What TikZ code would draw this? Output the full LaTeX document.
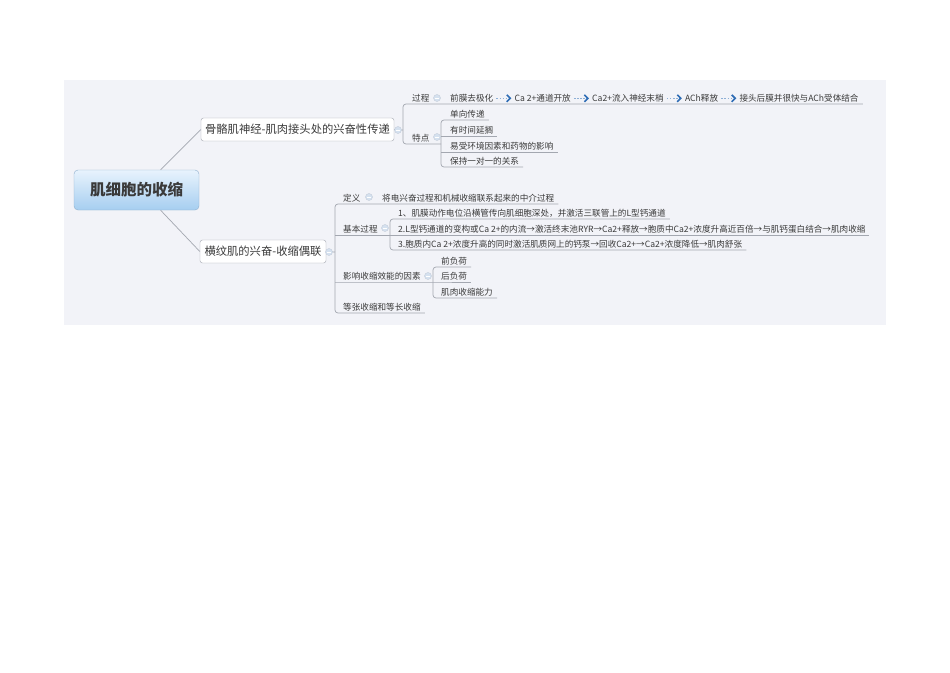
\documentclass[tikz,border=0pt]{standalone}
\usepackage{fontspec}
\newfontfamily\cjk{Noto Sans CJK SC}
\usetikzlibrary{arrows.meta,positioning}
\definecolor{paper}{HTML}{F2F3F8}
\definecolor{ink}{HTML}{3A3A3A}
\definecolor{wire}{HTML}{A3A7B0}
\definecolor{flowblue}{HTML}{2F6DB5}
\definecolor{foldfill}{HTML}{D5E1EF}
\definecolor{rootedge}{HTML}{8EAFCD}
\definecolor{roottop}{HTML}{E8F3FD}
\definecolor{rootbot}{HTML}{A6CEF0}
\tikzset{
  root/.style={rectangle, rounded corners=4pt, draw=rootedge, top color=roottop, bottom color=rootbot,
    minimum width=125pt, minimum height=40pt, font=\cjk\bfseries\fontsize{15.5}{17}\selectfont, text=ink},
  branch/.style={rectangle, rounded corners=2.5pt, draw=wire, fill=white, minimum height=23pt,
    inner xsep=3pt, font=\cjk\fontsize{11.3}{13}\selectfont, text=ink},
  leaf/.style={anchor=south west, inner xsep=0pt, inner ysep=1.5pt, font=\cjk\fontsize{8.6}{10}\selectfont, text=ink},
  fold/.style={circle, draw=foldfill!80!gray, fill=foldfill, minimum size=7pt, inner sep=0pt,
    path picture={\draw[white, line width=.6pt] ([xshift=-1.8pt]path picture bounding box.center)
      -- ([xshift=1.8pt]path picture bounding box.center);}},
  link/.style={draw=wire, line width=.7pt},
  flow/.style={draw=flowblue!55, line width=1.5pt, dash pattern=on 1.5pt off 1.6pt,
    shorten <=3pt, shorten >=3pt,
    -{Straight Barb[length=3.5pt, width=7pt, line width=1.6pt, color=flowblue]}},
}
\begin{document}
\begin{tikzpicture}[x=1pt, y=-1pt, node distance=21pt]
\useasboundingbox (0,0) rectangle (950,672);
\fill[paper] (64,80) rectangle (886,325);

\node[root] (root) at (136.5,190) {肌细胞的收缩};
\node[branch, minimum width=193pt] (br1) at (297.5,129.5) {骨骼肌神经-肌肉接头处的兴奋性传递};
\node[branch, minimum width=126pt] (br2) at (263,251.5) {横纹肌的兴奋-收缩偶联};
\draw[link] (root.40) -- (br1.west);
\draw[link] (root.-40) -- (br2.west);

% joints
\coordinate (j1) at (403,130);
\coordinate (j12) at (441,144);
\coordinate (j2) at (335,252);
\coordinate (j21) at (390,235);
\coordinate (j22) at (433,282);

% branch 1
\node[leaf] (gc) at (412,104) {过程};
\node[leaf] (s1) at (450,104) {前膜去极化};
\node[leaf, right=of s1] (s2) {Ca 2+通道开放};
\node[leaf, right=of s2] (s3) {Ca2+流入神经末梢};
\node[leaf, right=of s3] (s4) {ACh释放};
\node[leaf, right=of s4] (s5) {接头后膜并很快与ACh受体结合};
\foreach \a/\b in {s1/s2,s2/s3,s3/s4,s4/s5}
  \draw[flow] (\a.east) -- (\b.west);
\node[leaf] (td) at (412,144) {特点};
\node[leaf] (t1) at (450,120) {单向传递};
\node[leaf] (t2) at (450,136) {有时间延搁};
\node[leaf] (t3) at (450,152) {易受环境因素和药物的影响};
\node[leaf] (t4) at (450,167) {保持一对一的关系};

\draw[link, rounded corners=3pt] ([xshift=4pt]s5.south east) -- (j1 |- gc.south) -- (j1 |- td.south) -- (j12);
\draw[link, rounded corners=3pt] ([xshift=4pt]t1.south east) -- (j12 |- t1.south) -- (j12 |- t4.south) -- ([xshift=4pt]t4.south east);
\draw[link] (j12 |- t2.south) -- ([xshift=4pt]t2.south east);
\draw[link] (j12 |- t3.south) -- ([xshift=4pt]t3.south east);

% branch 2
\node[leaf] (dy) at (343,204) {定义};
\node[leaf] (dyt) at (382,204) {将电兴奋过程和机械收缩联系起来的中介过程};
\node[leaf] (jb) at (343,235) {基本过程};
\node[leaf] (p1) at (398,219) {1、肌膜动作电位沿横管传向肌细胞深处，并激活三联管上的L型钙通道};
\node[leaf] (p2) at (398,235) {2.L型钙通道的变构或Ca 2+的内流→激活终末池RYR→Ca2+释放→胞质中Ca2+浓度升高近百倍→与肌钙蛋白结合→肌肉收缩};
\node[leaf] (p3) at (398,250) {3.胞质内Ca 2+浓度升高的同时激活肌质网上的钙泵→回收Ca2+→Ca2+浓度降低→肌肉舒张};
\node[leaf] (yx) at (343,282) {影响收缩效能的因素};
\node[leaf] (q1) at (441,267) {前负荷};
\node[leaf] (q2) at (441,282) {后负荷};
\node[leaf] (q3) at (441,298) {肌肉收缩能力};
\node[leaf] (dz) at (343,313) {等张收缩和等长收缩};

\draw[link] (br2.east) -- (j2);
\draw[link, rounded corners=3pt] ([xshift=4pt]dyt.south east) -- (j2 |- dy.south) -- (j2 |- dz.south) -- ([xshift=4pt]dz.south east);
\draw[link] (j2 |- jb.south) -- ([xshift=3pt]p2.south east);
\draw[link, rounded corners=3pt] ([xshift=4pt]p1.south east) -- (j21 |- p1.south) -- (j21 |- p3.south) -- ([xshift=4pt]p3.south east);
\draw[link] (j2 |- yx.south) -- (j22) -- ([xshift=4pt]q2.south east);
\draw[link, rounded corners=3pt] ([xshift=4pt]q1.south east) -- (j22 |- q1.south) -- (j22 |- q3.south) -- ([xshift=4pt]q3.south east);
\draw[link] (br1.east) -- (j1);

% fold buttons
\node[fold] (f1) at (398,130) {};
\node[fold] (f2) at (329,252) {};
\node[fold] (f11) at (437,98) {};
\node[fold] (f12) at (437,137) {};
\node[fold] (f21) at (369,197) {};
\node[fold] (f22) at (385,228) {};
\node[fold] (f23) at (428,276) {};
\end{tikzpicture}
\end{document}
